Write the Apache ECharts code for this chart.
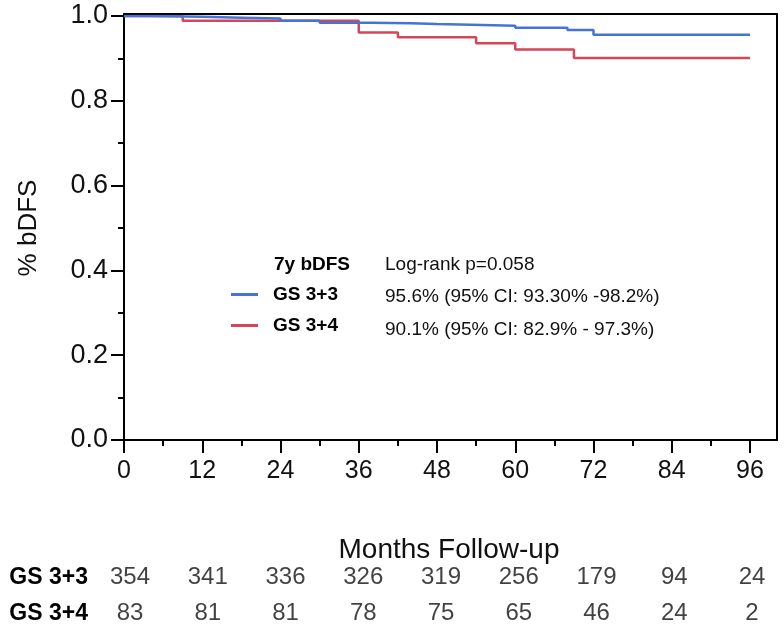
<!DOCTYPE html>
<html>
<head>
<meta charset="utf-8">
<script src="https://cdn.jsdelivr.net/npm/echarts@6/dist/echarts.min.js"></script>
<style>
html,body{margin:0;padding:0;background:#fff;}
#chart{width:784px;height:631px;}
</style>
</head>
<body>
<div id="chart"></div>
<script>
// Kaplan-Meier step data: [month, survival]
var gs33Curve = [[0,1.0],[4,0.998],[12,0.996],[18,0.994],[24,0.989],[30,0.984],[38,0.983],[44,0.981],[48,0.977],[60,0.972],[68,0.967],[72,0.956],[96,0.956]];
var gs34Curve = [[0,1.0],[9,0.989],[36,0.961],[42,0.950],[54,0.936],[60,0.921],[69,0.901],[96,0.901]];
var seriesNames = ['GS 3+3','GS 3+4'];
var seriesColors = ['#4674d6','#d4465a'];
var xTicks = [0,12,24,36,48,60,72,84,96];
var riskRows = ['GS 3+3','GS 3+4'];
var riskGS33 = [354,341,336,326,319,256,179,94,24];
var riskGS34 = [83,81,81,78,75,65,46,24,2];
var legendHeader = '7y bDFS';
var legendPValue = 'Log-rank p=0.058';
var legendStats = ['95.6% (95% CI: 93.30% -98.2%)','90.1% (95% CI: 82.9% - 97.3%)'];

var FONT = 'Liberation Sans, Arial, sans-serif';
var chart = echarts.init(document.getElementById('chart'), null, {renderer:'canvas'});

var riskData = [];
xTicks.forEach(function(m,i){
  riskData.push([m, riskRows[0], riskGS33[i]]);
  riskData.push([m, riskRows[1], riskGS34[i]]);
});

var option = {
  backgroundColor:'#fff',
  animation:false,
  textStyle:{fontFamily:FONT},
  grid:[
    {left:124, right:34, top:16, bottom:191},
    {left:130, right:32, top:560, height:72},
    {left:124, right:7, top:14, bottom:191, show:true, borderColor:'#000', borderWidth:2, backgroundColor:'transparent'}
  ],
  xAxis:[
    {gridIndex:0, type:'value', min:0, max:96, interval:12,
     name:'Months Follow-up', nameLocation:'middle', nameGap:96,
     nameTextStyle:{fontSize:28, color:'#111', fontFamily:FONT, padding:[0,0,0,24]},
     axisLine:{show:true, onZero:false, lineStyle:{color:'#000', width:2}},
     axisTick:{show:true, length:13, lineStyle:{color:'#000', width:2}},
     minorTick:{show:true, splitNumber:2, length:6, lineStyle:{color:'#000', width:2}},
     splitLine:{show:false}, minorSplitLine:{show:false},
     axisLabel:{fontSize:25, color:'#111', margin:19, fontFamily:FONT}},
    {gridIndex:1, type:'value', min:0, max:96, show:false},
    {gridIndex:2, type:'value', min:0, max:1, show:false}
  ],
  yAxis:[
    {gridIndex:0, type:'value', min:0, max:1, interval:0.2,
     name:'% bDFS', nameLocation:'middle', nameGap:82, nameRotate:90,
     nameTextStyle:{fontSize:26, color:'#111', fontFamily:FONT},
     axisLine:{show:true, lineStyle:{color:'#000', width:2}},
     axisTick:{show:true, length:13, lineStyle:{color:'#000', width:2}},
     minorTick:{show:true, splitNumber:2, length:6, lineStyle:{color:'#000', width:2}},
     splitLine:{show:false}, minorSplitLine:{show:false},
     axisLabel:{fontSize:27, color:'#111', margin:16, fontFamily:FONT,
       formatter:function(v){return v.toFixed(1);}}},
    {gridIndex:1, type:'category', data:riskRows, inverse:true,
     axisLine:{show:false}, axisTick:{show:false}, splitLine:{show:false},
     axisLabel:{fontSize:23, fontWeight:'bold', color:'#000', margin:42, fontFamily:FONT}},
    {gridIndex:2, type:'value', min:0, max:1, show:false}
  ],
  legend:{
    orient:'vertical', left:231, top:285, padding:0, itemGap:12,
    itemWidth:27, itemHeight:3, icon:'rect',
    data:seriesNames,
    textStyle:{fontSize:19, fontWeight:'bold', color:'#000', fontFamily:FONT, padding:[0,0,0,10]}
  },
  graphic:[
    {type:'text', left:274, top:255, style:{text:legendHeader, font:'bold 19px '+FONT, fill:'#000'}},
    {type:'text', left:385, top:255, style:{text:legendPValue, font:'19px '+FONT, fill:'#111'}},
    {type:'text', left:385, top:287, style:{text:legendStats[0], font:'19px '+FONT, fill:'#111'}},
    {type:'text', left:385, top:320, style:{text:legendStats[1], font:'19px '+FONT, fill:'#111'}}
  ],
  series:[
    {name:seriesNames[1], type:'line', xAxisIndex:0, yAxisIndex:0, step:'end', data:gs34Curve,
     showSymbol:false, symbol:'none', color:seriesColors[1], lineStyle:{width:2.5, color:seriesColors[1]}},
    {name:seriesNames[0], type:'line', xAxisIndex:0, yAxisIndex:0, step:'end', data:gs33Curve,
     showSymbol:false, symbol:'none', color:seriesColors[0], lineStyle:{width:2.5, color:seriesColors[0]}},
    {name:'risk', type:'scatter', xAxisIndex:1, yAxisIndex:1, data:riskData, symbolSize:1,
     itemStyle:{color:'rgba(0,0,0,0)'}, silent:true,
     label:{show:true, position:'inside', fontSize:24, color:'#111', fontFamily:FONT,
       formatter:function(p){return String(p.value[2]);}}}
  ]
};
chart.setOption(option);
</script>
</body>
</html>
